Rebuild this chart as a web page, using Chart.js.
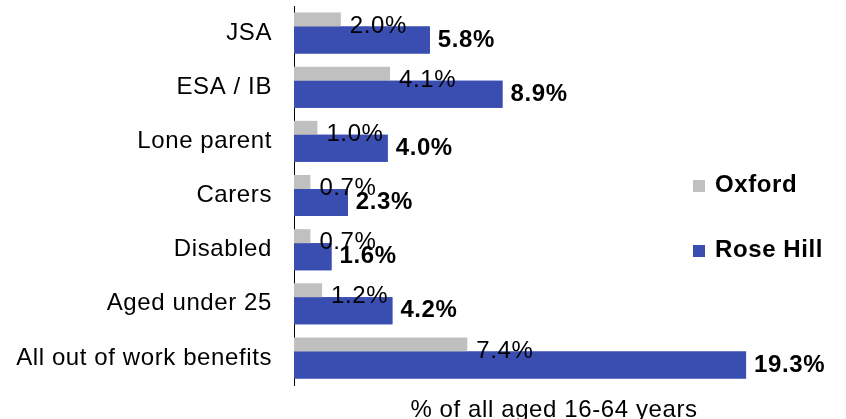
<!DOCTYPE html>
<html lang="en">
<head>
    <meta charset="UTF-8">
    <title>Out of work benefits - Rose Hill vs Oxford</title>
    <style>
        body {
            margin: 0;
            background: #ffffff;
        }
        .chart-box {
            position: relative;
            width: 846px;
            height: 419px;
        }
    </style>
    <script src="https://cdn.jsdelivr.net/npm/chart.js"></script>
</head>
<body>
    <div class="chart-box">
        <canvas id="benefitsChart"></canvas>
    </div>

    <script>
        // Data
        const categories = ['JSA', 'ESA / IB', 'Lone parent', 'Carers', 'Disabled', 'Aged under 25', 'All out of work benefits'];
        const oxford = [2.0, 4.1, 1.0, 0.7, 0.7, 1.2, 7.4];
        const roseHill = [5.8, 8.9, 4.0, 2.3, 1.6, 4.2, 19.3];
        const seriesNames = ['Oxford', 'Rose Hill'];
        const axisTitle = '% of all aged 16-64 years';

        const FONT = "'Liberation Sans', Arial, sans-serif";
        const GREY = '#c0c0c0';
        const BLUE = '#3a4db0';

        Chart.defaults.font.family = FONT;
        Chart.defaults.color = '#000';

        // wider text spacing like the original export
        const spacingPlugin = {
            id: 'spacing',
            beforeDraw(chart) {
                chart.ctx.letterSpacing = '0.6px';
            }
        };

        // blue bars sit over the grey ones, then the value labels and legend
        const overlayPlugin = {
            id: 'overlay',
            afterDatasetsDraw(chart) {
                const ctx = chart.ctx;
                chart.getDatasetMeta(1).controller.draw();

                ctx.save();
                ctx.textBaseline = 'middle';
                ctx.textAlign = 'left';
                ctx.fillStyle = '#000';
                chart.data.datasets.forEach((ds, i) => {
                    const meta = chart.getDatasetMeta(i);
                    ctx.font = (i === 1 ? 'bold ' : '') + '24px ' + FONT;
                    meta.data.forEach((bar, j) => {
                        ctx.fillText(ds.data[j].toFixed(1) + '%', bar.x + (i === 1 ? 8 : 9), bar.y);
                    });
                });
                ctx.restore();
            },
            afterDraw(chart) {
                const ctx = chart.ctx;
                const x = chart.width - 153;
                const ys = [185, 250];
                ctx.save();
                ctx.font = 'bold 24px ' + FONT;
                ctx.textBaseline = 'middle';
                ctx.textAlign = 'left';
                chart.data.datasets.forEach((ds, i) => {
                    ctx.fillStyle = ds.backgroundColor;
                    ctx.fillRect(x, ys[i] - 5, 12, 12);
                    ctx.fillStyle = '#000';
                    ctx.fillText(ds.label, x + 22, ys[i]);
                });
                ctx.restore();
            }
        };

        const ctx = document.getElementById('benefitsChart').getContext('2d');
        const chart = new Chart(ctx, {
            type: 'bar',
            data: {
                labels: categories,
                datasets: [
                    {
                        label: seriesNames[0],
                        data: oxford,
                        backgroundColor: GREY,
                        categoryPercentage: 0.517,
                        barPercentage: 1.93
                    },
                    {
                        label: seriesNames[1],
                        data: roseHill,
                        backgroundColor: BLUE,
                        categoryPercentage: 0.517,
                        barPercentage: 1.93
                    }
                ]
            },
            options: {
                indexAxis: 'y',
                responsive: true,
                maintainAspectRatio: false,
                animation: false,
                layout: {
                    padding: { top: 6, right: 32, left: 0, bottom: 0 }
                },
                plugins: {
                    legend: { display: false },
                    tooltip: { enabled: false }
                },
                scales: {
                    x: {
                        min: 0,
                        max: 22.2,
                        grid: { display: false, drawTicks: false },
                        border: { display: false },
                        ticks: { display: false },
                        title: {
                            display: true,
                            text: axisTitle,
                            color: '#000',
                            font: { size: 24, lineHeight: 0.75 },
                            padding: 0
                        },
                        afterFit(scale) {
                            scale.height = 34;
                        }
                    },
                    y: {
                        grid: { display: false, drawTicks: false, tickLength: 0 },
                        border: { display: true, color: '#000', width: 1 },
                        ticks: {
                            color: '#000',
                            font: { size: 24 },
                            padding: 22
                        },
                        afterFit(scale) {
                            scale.width = 294;
                            scale.paddingTop = 0;
                            scale.paddingBottom = 0;
                        }
                    }
                }
            },
            plugins: [spacingPlugin, overlayPlugin]
        });
    </script>
</body>
</html>
